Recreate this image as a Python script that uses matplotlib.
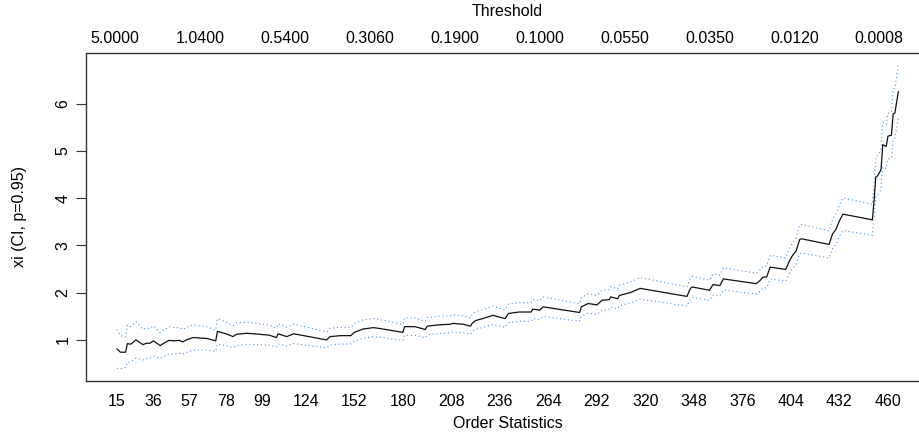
import matplotlib
matplotlib.use('Agg')
import matplotlib.pyplot as plt
import numpy as np

plt.rcParams['font.family'] = ['Liberation Sans', 'DejaVu Sans']

# Order statistics (number of upper order statistics k) and Hill estimate of xi
order = [15, 17, 20, 21, 23, 26, 30, 32, 34, 36, 40, 42, 45, 48, 51, 53, 55, 59, 63, 67,
         72, 73, 78, 82, 84, 90, 97, 103, 107, 108, 113, 117, 136, 138, 144, 150, 152, 157,
         163, 167, 180, 181, 187, 193, 194, 201, 207, 209, 215, 219, 220, 222, 226, 232,
         239, 241, 247, 254, 255, 259, 261, 282, 283, 287, 292, 295, 299, 300, 304, 305,
         309, 312, 315, 317, 344, 346, 347, 357, 359, 363, 365, 384, 386, 388, 390, 392,
         401, 403, 405, 407, 409, 410, 426, 428, 430, 432, 434, 451, 452, 453, 454, 456,
         457, 459, 460, 462, 463, 464, 466]
xi = [0.81, 0.74, 0.74, 0.92, 0.91, 1.00, 0.90, 0.93, 0.93, 0.98, 0.88, 0.93, 0.99, 0.98,
      0.99, 0.96, 1.00, 1.05, 1.04, 1.03, 0.98, 1.18, 1.13, 1.07, 1.12, 1.14, 1.12, 1.10,
      1.05, 1.13, 1.07, 1.13, 1.00, 1.07, 1.09, 1.09, 1.16, 1.23, 1.26, 1.24, 1.16, 1.28,
      1.28, 1.22, 1.29, 1.32, 1.33, 1.35, 1.33, 1.29, 1.35, 1.41, 1.45, 1.52, 1.45, 1.56,
      1.59, 1.59, 1.65, 1.63, 1.70, 1.58, 1.70, 1.77, 1.74, 1.84, 1.85, 1.91, 1.87, 1.94,
      1.98, 2.01, 2.06, 2.09, 1.92, 2.09, 2.12, 2.05, 2.17, 2.15, 2.29, 2.19, 2.25, 2.33,
      2.33, 2.54, 2.49, 2.66, 2.79, 2.88, 3.12, 3.14, 3.02, 3.24, 3.34, 3.52, 3.66, 3.54,
      3.95, 4.45, 4.47, 4.60, 5.13, 5.09, 5.31, 5.33, 5.78, 5.80, 6.25]
ci_level = 0.95

bottom_ticks = [15, 36, 57, 78, 99, 124, 152, 180, 208, 236, 264, 292, 320, 348, 376, 404, 432, 460]
top_tick_pos = [14, 63, 112, 161, 210, 259, 308, 357, 406, 455]
top_tick_labels = ['5.0000', '1.0400', '0.5400', '0.3060', '0.1900', '0.1000',
                   '0.0550', '0.0350', '0.0120', '0.0008']
y_ticks = [1, 2, 3, 4, 5, 6]

k = np.array(order, dtype=float)
y = np.array(xi)
z = 1.959964  # qnorm(1 - (1 - 0.95)/2)
upper = y * (1 + z / np.sqrt(k))
lower = y * (1 - z / np.sqrt(k))

W, H = 920, 433
fig = plt.figure(figsize=(W / 100, H / 100), dpi=100)
left_px, right_px, top_px, bot_px = 85.7, 929.6, 52.7, 381.0
ax = fig.add_axes([left_px / W, 1 - bot_px / H, (right_px - left_px) / W, (bot_px - top_px) / H])

ci_col = '#4a95e0'
ax.plot(k, upper, color=ci_col, lw=0.8, ls=(0, (1, 2.5)))
ax.plot(k, lower, color=ci_col, lw=0.8, ls=(0, (1, 2.5)))
ax.plot(k, y, color='#111111', lw=0.9)

xr = k.max() - k.min()
ax.set_xlim(k.min() - 0.04 * xr, k.max() + 0.04 * xr)
yr = upper.max() - lower.min()
ax.set_ylim(lower.min() - 0.04 * yr, upper.max() + 0.04 * yr)

for s in ax.spines.values():
    s.set_color('#333333')
    s.set_linewidth(1.0)

fs = 11.5
ax.set_xticks(bottom_ticks)
ax.set_xticklabels([str(t) for t in bottom_ticks])
ax.tick_params(axis='x', length=0, pad=9, labelsize=fs)
ax.set_yticks(y_ticks)
ax.set_yticklabels([str(t) for t in y_ticks], rotation=90, va='center')
ax.tick_params(axis='y', length=7, width=0.8, color='#333333', pad=4, labelsize=fs)

ax2 = ax.twiny()
ax2.set_xlim(ax.get_xlim())
ax2.set_xticks(top_tick_pos)
ax2.set_xticklabels(top_tick_labels)
ax2.tick_params(axis='x', length=0, pad=5, labelsize=fs)
for s in ax2.spines.values():
    s.set_visible(False)

cx = (left_px + right_px) / 2 / W
fig.text(cx, 1 - 12 / H, 'Threshold', ha='center', va='center', fontsize=fs)
fig.text(cx, 1 - 424 / H, 'Order Statistics', ha='center', va='center', fontsize=fs)
fig.text(20 / W, 1 - (top_px + bot_px) / 2 / H, 'xi (CI, p=0.95)', ha='center', va='center',
         rotation=90, fontsize=fs)

fig.savefig('out.png', dpi=100)
